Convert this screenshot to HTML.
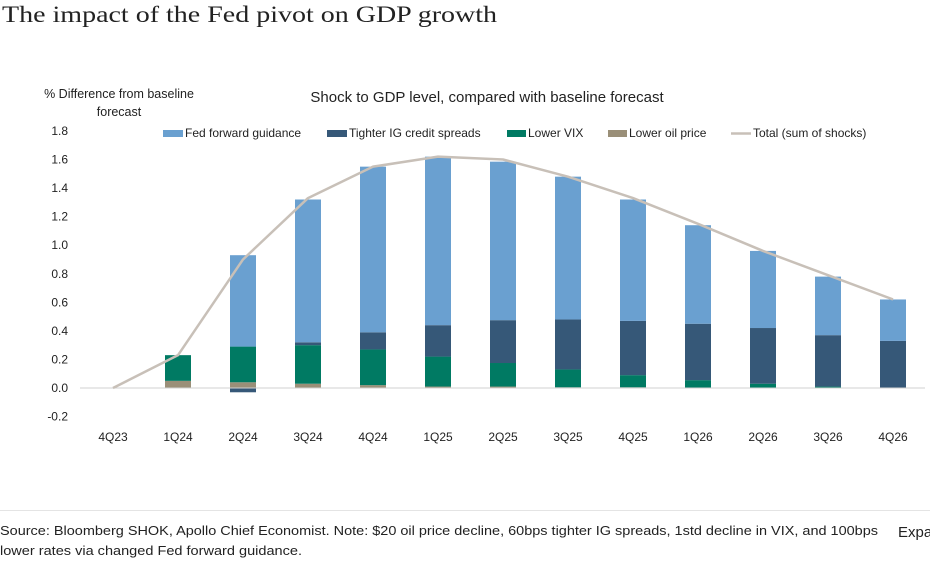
<!DOCTYPE html>
<html><head><meta charset="utf-8"><style>
body{margin:0;background:#fff;}
svg{display:block;font-family:"Liberation Sans",sans-serif;}
</style></head><body>
<svg id="c" width="930" height="565" viewBox="0 0 930 565">
<text x="2" y="22" font-family="Liberation Serif,serif" font-size="23" fill="#222" textLength="495" lengthAdjust="spacingAndGlyphs">The impact of the Fed pivot on GDP growth</text>
<text x="119" y="98" font-size="12.5" text-anchor="middle" fill="#222">% Difference from baseline</text>
<text x="119" y="116" font-size="12.5" text-anchor="middle" fill="#222">forecast</text>
<text x="487" y="102" font-size="15" text-anchor="middle" fill="#222">Shock to GDP level, compared with baseline forecast</text>
<g font-size="12" fill="#222">
<rect x="163" y="130" width="20" height="7" fill="#6aa0d0"/><text x="185" y="137">Fed forward guidance</text>
<rect x="327" y="130" width="20" height="7" fill="#365878"/><text x="349" y="137">Tighter IG credit spreads</text>
<rect x="507" y="130" width="19" height="7" fill="#007a63"/><text x="528" y="137">Lower VIX</text>
<rect x="608" y="130" width="19" height="7" fill="#9a8f78"/><text x="629" y="137">Lower oil price</text>
<line x1="731" y1="133.5" x2="751" y2="133.5" stroke="#c8c0b8" stroke-width="2.5"/><text x="753" y="137">Total (sum of shocks)</text>
</g>
<g id="plot"></g>
<line x1="0" y1="510.5" x2="930" y2="510.5" stroke="#e4e4e4"/>
<text x="0" y="535" font-size="13" fill="#222" textLength="878" lengthAdjust="spacingAndGlyphs">Source: Bloomberg SHOK, Apollo Chief Economist. Note: $20 oil price decline, 60bps tighter IG spreads, 1std decline in VIX, and 100bps</text>
<text x="0" y="555" font-size="13" fill="#222" textLength="302" lengthAdjust="spacingAndGlyphs">lower rates via changed Fed forward guidance.</text>
<text x="898" y="537" font-size="15" fill="#222">Expa</text>
</svg>
<script>
const categories=["4Q23","1Q24","2Q24","3Q24","4Q24","1Q25","2Q25","3Q25","4Q25","1Q26","2Q26","3Q26","4Q26"];
const oilValues=[0,0.05,0.04,0.03,0.02,0.01,0.01,0.005,0.005,0,0,0,0];
const vixValues=[0,0.18,0.25,0.27,0.25,0.21,0.165,0.125,0.085,0.055,0.03,0.01,0];
const igValues=[0,0,-0.03,0.02,0.12,0.22,0.30,0.35,0.38,0.395,0.39,0.36,0.33];
const fedValues=[0,0,0.64,1.0,1.16,1.18,1.11,1.0,0.85,0.69,0.54,0.41,0.29];
const totalValues=[0,0.23,0.90,1.33,1.55,1.62,1.60,1.48,1.33,1.15,0.96,0.79,0.62];
const yTicks=["-0.2","0.0","0.2","0.4","0.6","0.8","1.0","1.2","1.4","1.6","1.8"];
const NS="http://www.w3.org/2000/svg";
const g=document.getElementById('plot');
const y=v=>388-v*142.8;
const x=i=>113+i*65;
const BW=26;
function mk(t,a){const e=document.createElementNS(NS,t);for(const k in a)e.setAttribute(k,a[k]);g.appendChild(e);return e;}
yTicks.forEach(t=>{
 const e=mk('text',{x:68,y:y(parseFloat(t))+4,'font-size':12,'text-anchor':'end',fill:'#222'});
 
 
 e.textContent=t;
});
categories.forEach((c,i)=>{
 const e=mk('text',{x:x(i),y:441,'font-size':12,'text-anchor':'middle',fill:'#222'});
 
 
 e.textContent=c;
});
const series=[["oil",oilValues,"#9a8f78"],["vix",vixValues,"#007a63"],["ig",igValues,"#365878"],["fed",fedValues,"#6aa0d0"]];
categories.forEach((c,i)=>{
 let pos=0,neg=0;
 series.forEach(([n,vals,col])=>{
  const v=vals[i]; if(!v) return;
  let a,b;
  if(v>=0){a=pos;b=pos+v;pos=b;}else{a=neg;b=neg+v;neg=b;}
  const top=y(Math.max(a,b)),bot=y(Math.min(a,b));
  const r=mk('rect',{x:x(i)-BW/2,y:top,width:BW,height:bot-top,fill:col});
  
  
 });
});
const zl=mk('line',{x1:80,y1:y(0),x2:925,y2:y(0),stroke:'#d0d0d0','stroke-width':1});


const pl=mk('polyline',{points:totalValues.map((v,i)=>x(i)+','+y(v)).join(' '),fill:'none',stroke:'#c8c0b8','stroke-width':2.5,'stroke-linejoin':'round'});


</script>
</body></html>
